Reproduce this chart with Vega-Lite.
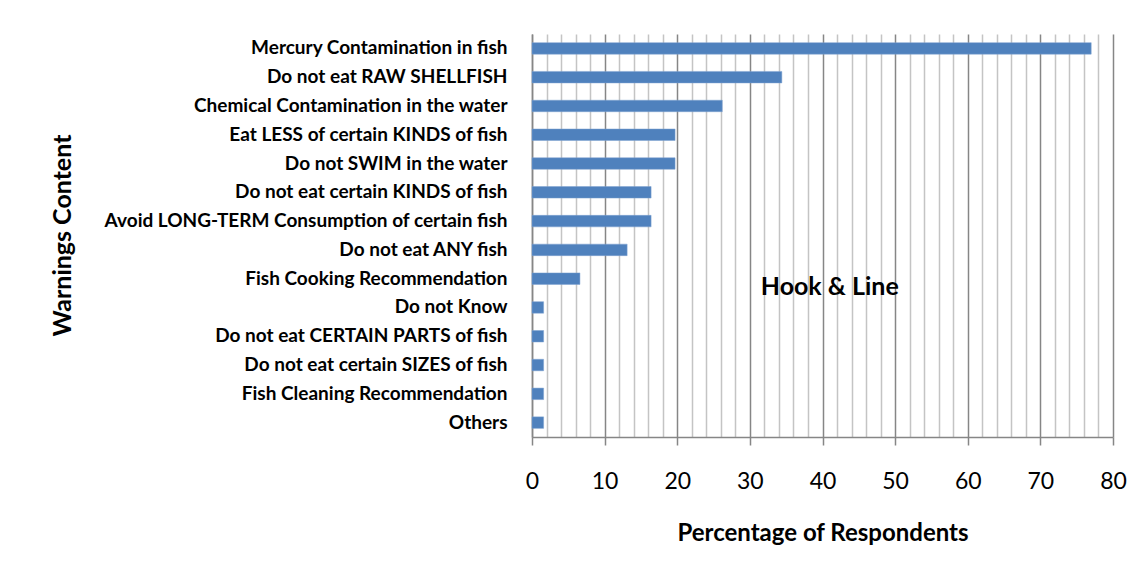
{
  "$schema": "https://vega.github.io/schema/vega-lite/v6.json",
  "autosize": "none",
  "width": 581,
  "height": 403,
  "padding": {"left": 532, "top": 34, "right": 29, "bottom": 138},
  "background": "white",
  "config": {
    "view": {"stroke": null},
    "font": "Lato"
  },
  "datasets": {
    "warnings": [
      {"content": "Mercury Contamination in fish", "pct": 77.0},
      {"content": "Do not eat RAW SHELLFISH", "pct": 34.4},
      {"content": "Chemical Contamination in the water", "pct": 26.2},
      {"content": "Eat LESS of certain KINDS of fish", "pct": 19.7},
      {"content": "Do not SWIM in the water", "pct": 19.7},
      {"content": "Do not eat certain KINDS of fish", "pct": 16.4},
      {"content": "Avoid LONG-TERM Consumption of certain fish", "pct": 16.4},
      {"content": "Do not eat ANY fish", "pct": 13.1},
      {"content": "Fish Cooking Recommendation", "pct": 6.6},
      {"content": "Do not Know", "pct": 1.6},
      {"content": "Do not eat CERTAIN PARTS of fish", "pct": 1.6},
      {"content": "Do not eat certain SIZES of fish", "pct": 1.6},
      {"content": "Fish Cleaning Recommendation", "pct": 1.6},
      {"content": "Others", "pct": 1.6}
    ],
    "note": [
      {"content": "Fish Cooking Recommendation", "pct": 41, "label": "Hook & Line"}
    ]
  },
  "layer": [
    {
      "data": {"name": "warnings"},
      "mark": {"type": "bar", "color": "#4f81bd", "stroke": "#7fa3d0", "strokeWidth": 0.5},
      "encoding": {
        "y": {
          "field": "content",
          "type": "nominal",
          "sort": null,
          "scale": {"paddingInner": 0.6, "paddingOuter": 0.3},
          "axis": {
            "title": "Warnings Content",
            "titleFont": "Lato",
            "titleFontSize": 25,
            "titleFontWeight": "bold",
            "titleColor": "black",
            "titleAngle": 270,
            "titleX": -470,
            "titleY": 201,
            "titleAlign": "center",
            "titleBaseline": "middle",
            "labelFont": "Lato",
            "labelFontSize": 19,
            "labelFontWeight": "bold",
            "labelColor": "black",
            "labelPadding": 25,
            "labelLimit": 600,
            "ticks": false,
            "domainColor": "#868686",
            "domainWidth": 1.5,
            "grid": false
          }
        },
        "x": {
          "field": "pct",
          "type": "quantitative",
          "scale": {"domain": [0, 80], "nice": false},
          "axis": {
            "title": "Percentage of Respondents",
            "titleFont": "Lato",
            "titleFontSize": 24,
            "titleFontWeight": "bold",
            "titleColor": "black",
            "titlePadding": 28,
            "tickCount": 100,
            "values": [0, 2, 4, 6, 8, 10, 12, 14, 16, 18, 20, 22, 24, 26, 28, 30, 32, 34, 36, 38, 40, 42, 44, 46, 48, 50, 52, 54, 56, 58, 60, 62, 64, 66, 68, 70, 72, 74, 76, 78, 80],
            "labelExpr": "datum.value % 10 === 0 ? datum.label : ''",
            "labelFont": "Lato",
            "labelFontSize": 23,
            "labelColor": "black",
            "labelPadding": 25,
            "labelFlush": false,
            "labelOverlap": false,
            "labelBound": false,
            "tickSize": 8,
            "tickColor": "#868686",
            "tickWidth": 1.5,
            "tickOpacity": {"condition": {"test": "datum.value % 10 === 0", "value": 1}, "value": 0},
            "domainColor": "#868686",
            "domainWidth": 1.5,
            "grid": true,
            "gridColor": {"condition": {"test": "datum.value % 10 === 0", "value": "#868686"}, "value": "#c4c4c4"},
            "gridWidth": 1.5,
            "gridOpacity": 1
          }
        }
      }
    },
    {
      "data": {"name": "note"},
      "mark": {"type": "text", "font": "Lato", "fontSize": 25, "fontWeight": "bold", "color": "black", "align": "center", "baseline": "middle", "dy": 8},
      "encoding": {
        "y": {"field": "content", "type": "nominal", "sort": null},
        "x": {"field": "pct", "type": "quantitative"},
        "text": {"field": "label"}
      }
    }
  ]
}
